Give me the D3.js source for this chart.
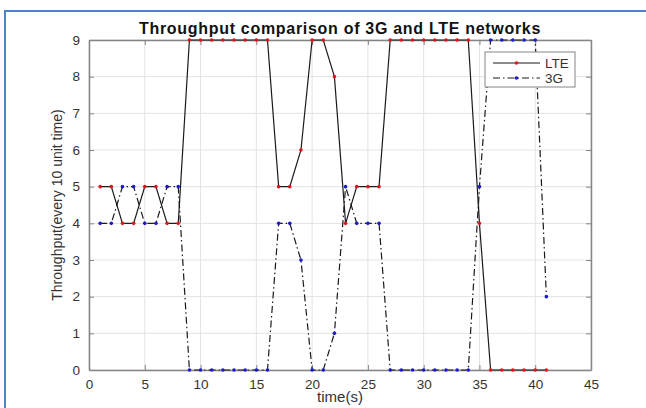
<!DOCTYPE html>
<html>
<head>
<meta charset="utf-8">
<script src="https://cdn.jsdelivr.net/npm/d3@7"></script>
<style>
  body { margin: 0; background: #fff; }
  svg { display: block; font-family: "Liberation Sans", Arial, sans-serif; }
</style>
</head>
<body>
<svg id="chart"></svg>
<script>
const width = 646;
const height = 408;

// time steps 1..41
const times = d3.range(1, 42);
const lteValues = [5, 5, 4, 4, 5, 5, 4, 4, 9, 9, 9, 9, 9, 9, 9, 9, 5, 5, 6, 9, 9, 8, 4, 5, 5, 5,
  9, 9, 9, 9, 9, 9, 9, 9, 4, 0, 0, 0, 0, 0, 0];
const g3Values = [4, 4, 5, 5, 4, 4, 5, 5, 0, 0, 0, 0, 0, 0, 0, 0, 4, 4, 3, 0, 0, 1, 5, 4, 4, 4,
  0, 0, 0, 0, 0, 0, 0, 0, 5, 9, 9, 9, 9, 9, 2];
const xTicks = [0, 5, 10, 15, 20, 25, 30, 35, 40, 45];
const yTicks = [0, 1, 2, 3, 4, 5, 6, 7, 8, 9];

const margin = { top: 40, right: 55, bottom: 38, left: 89 };
const iw = width - margin.left - margin.right;
const ih = height - margin.top - margin.bottom;

const svg = d3.select("#chart").attr("width", width).attr("height", height);

// blue frame around the figure
svg.append("rect")
  .attr("x", 5).attr("y", 11)
  .attr("width", width).attr("height", height)
  .attr("fill", "none")
  .attr("stroke", "#4f81c7")
  .attr("stroke-width", 2);

const x = d3.scaleLinear().domain([0, 45]).range([0, iw]);
const y = d3.scaleLinear().domain([0, 9]).range([ih, 0]);

const g = svg.append("g").attr("transform", `translate(${margin.left},${margin.top})`);

// grid
g.append("g")
  .selectAll("line")
  .data(xTicks)
  .join("line")
  .attr("x1", d => x(d)).attr("x2", d => x(d))
  .attr("y1", 0).attr("y2", ih)
  .attr("stroke", "#e3e3e3");
g.append("g")
  .selectAll("line")
  .data(yTicks)
  .join("line")
  .attr("x1", 0).attr("x2", iw)
  .attr("y1", d => y(d)).attr("y2", d => y(d))
  .attr("stroke", "#e3e3e3");

// axes with inward ticks, box on
const axisColor = "#858585";
const textColor = "#333";
function styleAxis(sel) {
  sel.select(".domain").attr("stroke", axisColor).attr("stroke-width", 1.5);
  sel.selectAll(".tick line").attr("stroke", axisColor);
  sel.selectAll(".tick text").attr("fill", textColor).attr("font-size", 13.5)
    .attr("font-family", "Liberation Sans, Arial, sans-serif");
}

g.append("g")
  .attr("transform", `translate(0,${ih})`)
  .call(d3.axisBottom(x).tickValues(xTicks).tickSize(-5).tickPadding(9).tickSizeOuter(0))
  .call(styleAxis);
g.append("g")
  .call(d3.axisTop(x).tickValues(xTicks).tickSize(-5).tickFormat("").tickSizeOuter(0))
  .call(styleAxis);
g.append("g")
  .call(d3.axisLeft(y).tickValues(yTicks).tickSize(-5).tickPadding(9).tickSizeOuter(0))
  .call(styleAxis);
g.append("g")
  .attr("transform", `translate(${iw},0)`)
  .call(d3.axisRight(y).tickValues(yTicks).tickSize(-5).tickFormat("").tickSizeOuter(0))
  .call(styleAxis);

const series = [
  { name: "LTE", values: lteValues, dash: null, marker: "#e0141e" },
  { name: "3G", values: g3Values, dash: "7,3,1.5,3", marker: "#1b1bc8" }
];

const line = d3.line().x(d => x(d[0])).y(d => y(d[1]));

series.forEach(s => {
  const pts = times.map((t, i) => [t, s.values[i]]);
  g.append("path")
    .datum(pts)
    .attr("d", line)
    .attr("fill", "none")
    .attr("stroke", "#1a1a1a")
    .attr("stroke-width", 1.2)
    .attr("stroke-dasharray", s.dash);
  g.append("g")
    .selectAll("circle")
    .data(pts)
    .join("circle")
    .attr("cx", d => x(d[0]))
    .attr("cy", d => y(d[1]))
    .attr("r", 1.8)
    .attr("fill", s.marker);
});

// legend
const lg = svg.append("g").attr("transform", "translate(485,52)");
lg.append("rect")
  .attr("width", 90).attr("height", 35)
  .attr("fill", "#fff")
  .attr("stroke", "#858585");
series.forEach((s, i) => {
  const ly = 11 + i * 15;
  lg.append("line")
    .attr("x1", 8).attr("x2", 55)
    .attr("y1", ly).attr("y2", ly)
    .attr("stroke", "#1a1a1a")
    .attr("stroke-width", 1.2)
    .attr("stroke-dasharray", s.dash);
  lg.append("circle")
    .attr("cx", 31.5).attr("cy", ly).attr("r", 1.8)
    .attr("fill", s.marker);
  lg.append("text")
    .attr("x", 60).attr("y", ly + 4.5)
    .attr("font-size", 13.5)
    .attr("fill", textColor)
    .text(s.name);
});

// title and axis labels
svg.append("text")
  .attr("x", margin.left + iw / 2)
  .attr("y", 34)
  .attr("text-anchor", "middle")
  .attr("font-size", 16)
  .attr("font-weight", "bold")
  .attr("letter-spacing", 0.7)
  .attr("fill", "#111")
  .text("Throughput comparison of 3G and LTE networks");

svg.append("text")
  .attr("x", margin.left + iw / 2)
  .attr("y", 402)
  .attr("text-anchor", "middle")
  .attr("font-size", 15)
  .attr("fill", textColor)
  .text("time(s)");

svg.append("text")
  .attr("transform", `translate(62,${margin.top + ih / 2}) rotate(-90)`)
  .attr("text-anchor", "middle")
  .attr("font-size", 14)
  .attr("fill", textColor)
  .text("Throughput(every 10 unit time)");
</script>
</body>
</html>
